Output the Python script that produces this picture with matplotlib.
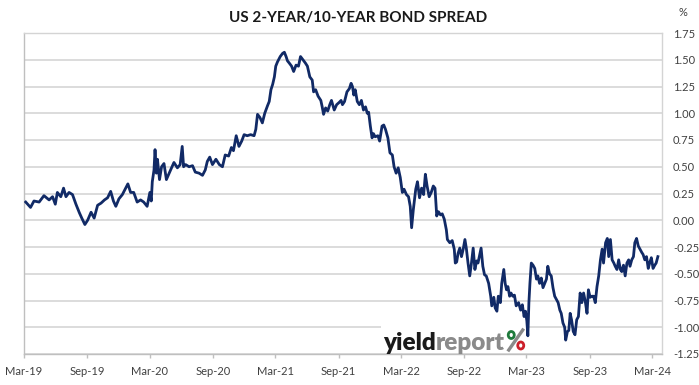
import matplotlib
matplotlib.use("Agg")
import matplotlib.pyplot as plt
import matplotlib.dates as mdates
from matplotlib.ticker import FuncFormatter
from matplotlib.patches import Rectangle, Ellipse
from matplotlib.lines import Line2D
import pandas as pd

plt.rcParams['font.family'] = ['Lato', 'DejaVu Sans']
plt.rcParams['axes.unicode_minus'] = False

title = "US 2-YEAR/10-YEAR BOND SPREAD"
unit_label = "%"
y_ticks = [1.75, 1.50, 1.25, 1.00, 0.75, 0.50, 0.25, 0.00, -0.25, -0.50, -0.75, -1.00, -1.25]
x_start = "2019-03-01"
x_end = "2024-03-29"

dates = [
    "2019-03-06", "2019-03-20", "2019-03-30", "2019-04-14", "2019-04-28", "2019-05-13", "2019-05-23", "2019-05-31",
    "2019-06-06", "2019-06-16", "2019-06-24", "2019-07-01", "2019-07-10", "2019-07-20", "2019-07-30", "2019-08-09",
    "2019-08-16", "2019-08-25", "2019-09-02", "2019-09-12", "2019-09-21", "2019-10-01", "2019-10-11", "2019-10-21",
    "2019-10-30", "2019-11-08", "2019-11-16", "2019-11-23", "2019-12-02", "2019-12-12", "2019-12-20", "2019-12-28",
    "2020-01-05", "2020-01-14", "2020-01-24", "2020-02-03", "2020-02-12", "2020-02-22", "2020-03-01", "2020-03-05",
    "2020-03-08", "2020-03-13", "2020-03-16", "2020-03-20", "2020-03-23", "2020-03-29", "2020-04-04", "2020-04-11",
    "2020-04-18", "2020-04-26", "2020-05-03", "2020-05-10", "2020-05-20", "2020-05-28", "2020-06-03", "2020-06-07",
    "2020-06-13", "2020-06-23", "2020-07-03", "2020-07-11", "2020-07-22", "2020-08-01", "2020-08-09", "2020-08-15",
    "2020-08-22", "2020-08-30", "2020-09-09", "2020-09-19", "2020-09-28", "2020-10-06", "2020-10-16", "2020-10-24",
    "2020-10-30", "2020-11-07", "2020-11-15", "2020-11-23",
    "2020-11-30", "2020-12-09", "2020-12-19", "2020-12-29", "2021-01-03", "2021-01-08", "2021-01-15", "2021-01-22",
    "2021-01-29", "2021-02-06", "2021-02-11", "2021-02-16", "2021-02-21", "2021-02-26", "2021-03-02", "2021-03-07",
    "2021-03-15", "2021-03-22", "2021-03-27", "2021-04-01", "2021-04-05", "2021-04-10", "2021-04-17", "2021-04-23",
    "2021-04-30", "2021-05-07", "2021-05-13", "2021-05-20", "2021-05-27", "2021-06-02", "2021-06-09", "2021-06-16",
    "2021-06-20", "2021-06-26", "2021-07-03", "2021-07-11", "2021-07-15", "2021-07-19", "2021-07-25", "2021-07-31",
    "2021-08-06", "2021-08-11", "2021-08-19", "2021-08-26", "2021-09-02", "2021-09-08", "2021-09-12", "2021-09-18",
    "2021-09-25", "2021-10-02", "2021-10-07", "2021-10-11", "2021-10-15", "2021-10-19", "2021-10-25", "2021-10-31",
    "2021-11-06", "2021-11-12", "2021-11-18", "2021-11-23", "2021-11-27", "2021-12-02", "2021-12-07", "2021-12-11",
    "2021-12-16", "2021-12-24", "2021-12-29", "2022-01-05", "2022-01-10", "2022-01-15", "2022-01-22", "2022-01-28",
    "2022-02-04", "2022-02-09", "2022-02-15", "2022-02-21", "2022-02-27", "2022-03-05", "2022-03-10", "2022-03-17",
    "2022-03-23", "2022-03-28", "2022-04-01", "2022-04-06", "2022-04-13", "2022-04-18", "2022-04-24", "2022-04-30",
    "2022-05-06", "2022-05-11", "2022-05-16", "2022-05-22", "2022-05-28", "2022-06-03", "2022-06-08", "2022-06-13",
    "2022-06-18", "2022-06-24", "2022-06-29", "2022-07-05",
    "2022-07-11", "2022-07-14", "2022-07-21", "2022-07-28", "2022-08-03", "2022-08-06", "2022-08-10", "2022-08-14",
    "2022-08-19", "2022-08-24", "2022-08-29", "2022-09-03", "2022-09-07", "2022-09-12", "2022-09-17", "2022-09-22",
    "2022-09-27", "2022-10-02", "2022-10-07", "2022-10-11", "2022-10-16", "2022-10-20", "2022-10-25", "2022-10-30",
    "2022-11-04", "2022-11-11", "2022-11-17", "2022-11-20", "2022-11-26", "2022-11-30", "2022-12-05", "2022-12-09",
    "2022-12-15", "2022-12-19", "2022-12-25", "2022-12-29", "2023-01-02", "2023-01-06", "2023-01-11", "2023-01-15",
    "2023-01-20", "2023-01-25", "2023-01-30", "2023-02-06", "2023-02-12", "2023-02-17", "2023-02-22", "2023-02-26",
    "2023-03-02", "2023-03-05", "2023-03-08", "2023-03-11", "2023-03-15", "2023-03-20", "2023-03-25", "2023-03-30",
    "2023-04-03", "2023-04-08", "2023-04-13", "2023-04-18", "2023-04-23", "2023-04-28", "2023-05-02", "2023-05-07",
    "2023-05-12", "2023-05-17", "2023-05-22", "2023-05-27", "2023-06-01", "2023-06-06", "2023-06-10", "2023-06-15",
    "2023-06-20", "2023-06-23", "2023-06-28", "2023-07-02", "2023-07-06", "2023-07-10", "2023-07-15", "2023-07-20",
    "2023-07-25", "2023-07-30", "2023-08-04", "2023-08-09", "2023-08-14", "2023-08-19", "2023-08-24", "2023-08-28",
    "2023-09-02", "2023-09-07", "2023-09-12", "2023-09-17", "2023-09-22", "2023-09-27", "2023-10-02", "2023-10-07",
    "2023-10-11", "2023-10-17", "2023-10-22", "2023-10-26", "2023-10-31", "2023-11-05", "2023-11-10", "2023-11-14",
    "2023-11-19", "2023-11-24", "2023-11-29", "2023-12-03", "2023-12-08", "2023-12-13", "2023-12-18", "2023-12-23",
    "2023-12-27", "2024-01-01", "2024-01-06", "2024-01-10", "2024-01-15", "2024-01-20", "2024-01-25", "2024-01-30",
    "2024-02-03", "2024-02-08", "2024-02-13", "2024-02-18", "2024-02-23", "2024-02-27", "2024-03-03", "2024-03-08",
    "2024-03-12", "2024-03-17",
]

spread = [
    0.17, 0.12, 0.18, 0.17, 0.23, 0.19, 0.22, 0.15,
    0.26, 0.22, 0.30, 0.22, 0.26, 0.24, 0.15, 0.07,
    0.02, -0.04, 0.00, 0.075, 0.02, 0.14, 0.16, 0.19,
    0.21, 0.27, 0.18, 0.13, 0.20, 0.24, 0.29, 0.34,
    0.26, 0.26, 0.17, 0.19, 0.17, 0.13, 0.26, 0.18,
    0.36, 0.47, 0.66, 0.44, 0.57, 0.38, 0.50, 0.53,
    0.38, 0.44, 0.49, 0.54, 0.49, 0.52, 0.69, 0.50,
    0.52, 0.50, 0.51, 0.45, 0.44, 0.42, 0.47, 0.55,
    0.59, 0.52, 0.57, 0.52, 0.50, 0.61, 0.60, 0.68,
    0.65, 0.79, 0.69, 0.74,
    0.80, 0.79, 0.80, 0.79, 0.85, 0.99, 0.96, 0.91,
    1.00, 1.07, 1.11, 1.22, 1.27, 1.34, 1.44, 1.48,
    1.53, 1.56, 1.57, 1.53, 1.49, 1.47, 1.44, 1.39,
    1.45, 1.44, 1.53, 1.50, 1.47, 1.44, 1.34, 1.31,
    1.20, 1.22, 1.16, 1.12, 1.06, 0.99, 1.05, 1.02,
    1.08, 1.12, 1.03, 1.08, 1.10, 1.12, 1.08, 1.11,
    1.20, 1.23, 1.28, 1.25, 1.17, 1.22, 1.11, 1.08,
    1.12, 1.03, 1.06, 1.00, 1.01, 0.88, 0.77, 0.81,
    0.78, 0.79, 0.74, 0.88, 0.89, 0.85, 0.77, 0.63,
    0.61, 0.50, 0.44, 0.49, 0.40, 0.26, 0.29, 0.24,
    0.22, 0.13, -0.07, 0.10, 0.29, 0.36, 0.21, 0.30,
    0.24, 0.43, 0.32, 0.22, 0.26, 0.32, 0.30, 0.04,
    0.08, 0.05, 0.06, 0.01,
    -0.09, -0.18, -0.21, -0.19, -0.27, -0.40, -0.39, -0.31,
    -0.26, -0.34, -0.27, -0.18, -0.26, -0.40, -0.52, -0.40,
    -0.26, -0.46, -0.38, -0.40, -0.32, -0.26, -0.43, -0.51,
    -0.52, -0.59, -0.71, -0.80, -0.72, -0.82, -0.85, -0.71,
    -0.77, -0.59, -0.46, -0.59, -0.65, -0.62, -0.71, -0.68,
    -0.71, -0.70, -0.80, -0.77, -0.84, -0.79, -0.90, -0.85,
    -0.94, -1.08, -0.77, -0.59, -0.40, -0.42, -0.45, -0.55,
    -0.52, -0.59, -0.54, -0.63, -0.59, -0.55, -0.43, -0.50,
    -0.52, -0.63, -0.71, -0.74, -0.77, -0.84, -0.87, -0.96,
    -1.00, -1.12, -1.04, -1.03, -0.87, -0.93, -1.04, -1.07,
    -0.93, -0.90, -0.68, -0.77, -0.68, -0.76, -0.87, -0.65,
    -0.72, -0.71, -0.71, -0.77, -0.62, -0.52, -0.37, -0.27,
    -0.40, -0.21, -0.17, -0.34, -0.18, -0.37, -0.40, -0.43,
    -0.46, -0.37, -0.46, -0.48, -0.42, -0.52, -0.40, -0.37,
    -0.43, -0.37, -0.34, -0.21, -0.17, -0.24, -0.27, -0.30,
    -0.32, -0.37, -0.34, -0.45, -0.39, -0.35, -0.45, -0.42,
    -0.40, -0.34,
]

W, H = 699, 385
fig = plt.figure(figsize=(W / 100, H / 100), dpi=100)
fig.patch.set_facecolor("white")
ax = fig.add_axes([24 / W, 31 / H, 638 / W, 321 / H])

x = pd.to_datetime(dates)
ax.plot(x, spread, color="#112a66", lw=2.0, zorder=3, solid_joinstyle="round")

ax.set_ylim(y_ticks[-1], y_ticks[0])
ax.set_xlim(pd.Timestamp(x_start), pd.Timestamp(x_end))
ax.set_yticks(y_ticks)
ax.yaxis.tick_right()
ax.yaxis.set_major_formatter(FuncFormatter(lambda v, p: f"{v:.2f}"))
ax.tick_params(axis="y", length=0, pad=8, labelsize=8, labelcolor="#404040")
ax.xaxis.set_major_locator(mdates.MonthLocator(bymonth=[3, 9], bymonthday=1))
ax.xaxis.set_major_formatter(mdates.DateFormatter("%b-%y"))
ax.tick_params(axis="x", length=3, width=1, color="#bfbfbf", pad=5.5, labelsize=8,
               labelcolor="#404040", direction="out")
ax.grid(axis="y", color="#d9d9d9", lw=1.3)
ax.set_axisbelow(True)
for s in ax.spines.values():
    s.set_color("#d4d4d4")
    s.set_linewidth(1.0)
ax.spines["left"].set_color("#bfbfbf")
ax.spines["bottom"].set_color("#bfbfbf")

fig.text(358 / W, 1 - 18 / H, title, ha="center", va="center", fontsize=11,
         fontweight="bold", color="#1a1a1a")
fig.text(683 / W, 1 - 12 / H, unit_label, ha="center", va="center", fontsize=8, color="#404040")

# logo
ax.add_patch(Rectangle((381 / W, 32 / H), 146 / W, 27 / H, transform=fig.transFigure,
                       facecolor="white", edgecolor="none", zorder=2))
renderer = fig.canvas.get_renderer()
base_y = (H - 350) / H
t1 = fig.text(383 / W, base_y, "yield", fontsize=17.5, fontweight="heavy", color="#1a1a1a",
              va="baseline", ha="left", zorder=4)
bb1 = t1.get_window_extent(renderer)
t2 = fig.text(bb1.x1 / W, base_y, "report", fontsize=17.5, fontweight="heavy", color="#8a8a8a",
              va="baseline", ha="left", zorder=4)
bb2 = t2.get_window_extent(renderer)
px = bb2.x1 + 2
fig.add_artist(Line2D([(px + 2) / W, (px + 16) / W], [(H - 350) / H, (H - 330) / H],
                      transform=fig.transFigure, color="#8a8a8a", lw=2.4, zorder=4))
fig.add_artist(Ellipse(((px + 4.5) / W, (H - 335) / H), 6.0 / W, 7.0 / H, transform=fig.transFigure,
                       facecolor="white", edgecolor="#1f7a3c", lw=2.0, zorder=5))
fig.add_artist(Ellipse(((px + 14) / W, (H - 345.5) / H), 6.0 / W, 7.0 / H, transform=fig.transFigure,
                       facecolor="white", edgecolor="#cc1f2a", lw=2.0, zorder=5))

fig.savefig("out.png", dpi=100, facecolor="white")
